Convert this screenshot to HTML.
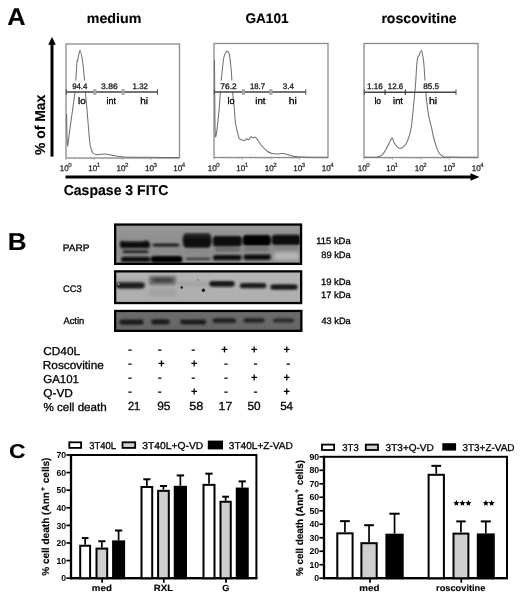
<!DOCTYPE html>
<html><head><meta charset="utf-8"><style>
html,body{margin:0;padding:0;background:#fff;}
body{width:520px;height:600px;overflow:hidden;}
svg{display:block;font-family:"Liberation Sans", sans-serif;will-change:transform;text-rendering:geometricPrecision;}
</style></head><body>
<svg width="520" height="600" viewBox="0 0 520 600" font-family='"Liberation Sans", sans-serif'>
<text transform="translate(7.37,24.60) scale(1.0446,1)" font-size="24.29" font-weight="bold" fill="#000" stroke="#000" stroke-width="0.15">A</text>
<text transform="translate(86.77,22.80) scale(1.0320,1)" font-size="13.80" font-weight="bold" fill="#000" stroke="#000" stroke-width="0.15">medium</text>
<text transform="translate(245.46,23.00) scale(0.9864,1)" font-size="13.80" font-weight="bold" fill="#000" stroke="#000" stroke-width="0.15">GA101</text>
<text transform="translate(381.38,22.80) scale(1.0224,1)" font-size="13.80" font-weight="bold" fill="#000" stroke="#000" stroke-width="0.15">roscovitine</text>
<line x1="52" y1="156.6" x2="52" y2="43" stroke="#000" stroke-width="3"/>
<polygon points="52,37 48.2,44.8 55.8,44.8" fill="#000"/>
<text transform="translate(44.70,155.05) rotate(-90) scale(0.9741,1)" font-size="14.30" font-weight="bold" fill="#000" stroke="#000" stroke-width="0.15">% of Max</text>
<line x1="65.5" y1="177" x2="472" y2="177" stroke="#000" stroke-width="3"/>
<polygon points="479.5,177 470.5,173.2 470.5,180.8" fill="#000"/>
<text transform="translate(63.64,194.90) scale(0.9905,1)" font-size="14.20" font-weight="bold" fill="#000" stroke="#000" stroke-width="0.15">Caspase 3 FITC</text>
<rect x="66" y="44" width="113.5" height="114" fill="none" stroke="#8a8a8a" stroke-width="1.3"/>
<path d="M66.60,114.00 C66.67,117.50 66.83,129.67 67.00,135.00 C67.17,140.33 67.27,145.83 67.60,146.00 C67.93,146.17 68.43,140.17 69.00,136.00 C69.57,131.83 70.33,125.83 71.00,121.00 C71.67,116.17 72.32,111.97 73.00,107.00 C73.68,102.03 74.63,95.63 75.10,91.20 C75.57,86.77 75.48,85.27 75.80,80.40 C76.12,75.53 76.70,65.27 77.00,62.00 C77.30,58.73 77.08,62.70 77.60,60.80 C78.12,58.90 79.23,50.23 80.10,50.60 C80.97,50.97 82.07,58.03 82.80,63.00 C83.53,67.97 84.08,75.70 84.50,80.40 C84.92,85.10 84.88,86.27 85.30,91.20 C85.72,96.13 86.47,103.87 87.00,110.00 C87.53,116.13 88.00,122.33 88.50,128.00 C89.00,133.67 89.50,140.33 90.00,144.00 C90.50,147.67 91.00,148.50 91.50,150.00 C92.00,151.50 92.25,152.23 93.00,153.00 C93.75,153.77 94.92,154.37 96.00,154.60 C97.08,154.83 97.88,154.48 99.50,154.40 C101.12,154.32 103.67,153.96 105.75,154.10 C107.83,154.24 109.92,154.89 112.00,155.25 C114.08,155.61 116.42,155.96 118.25,156.25 C120.08,156.54 119.38,156.84 123.00,157.00 C126.62,157.16 133.83,157.13 140.00,157.20 C146.17,157.27 153.50,157.35 160.00,157.40 C166.50,157.45 175.83,157.48 179.00,157.50" fill="none" stroke="#707070" stroke-width="1.05" stroke-linejoin="round"/>
<line x1="66.00" y1="158" x2="66.00" y2="160.2" stroke="#999" stroke-width="0.7"/>
<line x1="74.54" y1="158" x2="74.54" y2="159.2" stroke="#999" stroke-width="0.7"/>
<line x1="79.54" y1="158" x2="79.54" y2="159.2" stroke="#999" stroke-width="0.7"/>
<line x1="83.08" y1="158" x2="83.08" y2="159.2" stroke="#999" stroke-width="0.7"/>
<line x1="85.83" y1="158" x2="85.83" y2="159.2" stroke="#999" stroke-width="0.7"/>
<line x1="88.08" y1="158" x2="88.08" y2="159.2" stroke="#999" stroke-width="0.7"/>
<line x1="89.98" y1="158" x2="89.98" y2="159.2" stroke="#999" stroke-width="0.7"/>
<line x1="91.63" y1="158" x2="91.63" y2="159.2" stroke="#999" stroke-width="0.7"/>
<line x1="93.08" y1="158" x2="93.08" y2="159.2" stroke="#999" stroke-width="0.7"/>
<line x1="94.38" y1="158" x2="94.38" y2="160.2" stroke="#999" stroke-width="0.7"/>
<line x1="102.92" y1="158" x2="102.92" y2="159.2" stroke="#999" stroke-width="0.7"/>
<line x1="107.91" y1="158" x2="107.91" y2="159.2" stroke="#999" stroke-width="0.7"/>
<line x1="111.46" y1="158" x2="111.46" y2="159.2" stroke="#999" stroke-width="0.7"/>
<line x1="114.21" y1="158" x2="114.21" y2="159.2" stroke="#999" stroke-width="0.7"/>
<line x1="116.46" y1="158" x2="116.46" y2="159.2" stroke="#999" stroke-width="0.7"/>
<line x1="118.35" y1="158" x2="118.35" y2="159.2" stroke="#999" stroke-width="0.7"/>
<line x1="120.00" y1="158" x2="120.00" y2="159.2" stroke="#999" stroke-width="0.7"/>
<line x1="121.45" y1="158" x2="121.45" y2="159.2" stroke="#999" stroke-width="0.7"/>
<line x1="122.75" y1="158" x2="122.75" y2="160.2" stroke="#999" stroke-width="0.7"/>
<line x1="131.29" y1="158" x2="131.29" y2="159.2" stroke="#999" stroke-width="0.7"/>
<line x1="136.29" y1="158" x2="136.29" y2="159.2" stroke="#999" stroke-width="0.7"/>
<line x1="139.83" y1="158" x2="139.83" y2="159.2" stroke="#999" stroke-width="0.7"/>
<line x1="142.58" y1="158" x2="142.58" y2="159.2" stroke="#999" stroke-width="0.7"/>
<line x1="144.83" y1="158" x2="144.83" y2="159.2" stroke="#999" stroke-width="0.7"/>
<line x1="146.73" y1="158" x2="146.73" y2="159.2" stroke="#999" stroke-width="0.7"/>
<line x1="148.38" y1="158" x2="148.38" y2="159.2" stroke="#999" stroke-width="0.7"/>
<line x1="149.83" y1="158" x2="149.83" y2="159.2" stroke="#999" stroke-width="0.7"/>
<line x1="151.12" y1="158" x2="151.12" y2="160.2" stroke="#999" stroke-width="0.7"/>
<line x1="159.67" y1="158" x2="159.67" y2="159.2" stroke="#999" stroke-width="0.7"/>
<line x1="164.66" y1="158" x2="164.66" y2="159.2" stroke="#999" stroke-width="0.7"/>
<line x1="168.21" y1="158" x2="168.21" y2="159.2" stroke="#999" stroke-width="0.7"/>
<line x1="170.96" y1="158" x2="170.96" y2="159.2" stroke="#999" stroke-width="0.7"/>
<line x1="173.21" y1="158" x2="173.21" y2="159.2" stroke="#999" stroke-width="0.7"/>
<line x1="175.10" y1="158" x2="175.10" y2="159.2" stroke="#999" stroke-width="0.7"/>
<line x1="176.75" y1="158" x2="176.75" y2="159.2" stroke="#999" stroke-width="0.7"/>
<line x1="178.20" y1="158" x2="178.20" y2="159.2" stroke="#999" stroke-width="0.7"/>
<text x="59.80" y="171.2" font-size="8.1" fill="#222" stroke="#222" stroke-width="0.25">10</text>
<text x="68.30" y="166.6" font-size="6.1" fill="#222" stroke="#222" stroke-width="0.2">0</text>
<text x="88.17" y="171.2" font-size="8.1" fill="#222" stroke="#222" stroke-width="0.25">10</text>
<text x="96.67" y="166.6" font-size="6.1" fill="#222" stroke="#222" stroke-width="0.2">1</text>
<text x="116.55" y="171.2" font-size="8.1" fill="#222" stroke="#222" stroke-width="0.25">10</text>
<text x="125.05" y="166.6" font-size="6.1" fill="#222" stroke="#222" stroke-width="0.2">2</text>
<text x="144.93" y="171.2" font-size="8.1" fill="#222" stroke="#222" stroke-width="0.25">10</text>
<text x="153.43" y="166.6" font-size="6.1" fill="#222" stroke="#222" stroke-width="0.2">3</text>
<text x="173.30" y="171.2" font-size="8.1" fill="#222" stroke="#222" stroke-width="0.25">10</text>
<text x="181.80" y="166.6" font-size="6.1" fill="#222" stroke="#222" stroke-width="0.2">4</text>
<rect x="71.00" y="80.6" width="17.60" height="10.80" fill="#fff"/>
<rect x="99.90" y="80.6" width="18.90" height="10.80" fill="#fff"/>
<rect x="131.70" y="80.6" width="17.40" height="10.80" fill="#fff"/>
<line x1="66" y1="92" x2="157.5" y2="92" stroke="#444" stroke-width="1.4"/>
<rect x="93.5" y="89.5" width="2.6" height="5" fill="#a8a8a8" stroke="#999" stroke-width="0.5"/>
<rect x="121.9" y="89.5" width="2.6" height="5" fill="#a8a8a8" stroke="#999" stroke-width="0.5"/>
<line x1="157.5" y1="89.2" x2="157.5" y2="94.8" stroke="#555" stroke-width="1"/>
<line x1="66.3" y1="89.2" x2="66.3" y2="94.8" stroke="#555" stroke-width="1"/>
<text transform="translate(72.13,88.60) scale(0.9759,1)" font-size="8.00" fill="#1a1a1a" stroke="#1a1a1a" stroke-width="0.3">94.4</text>
<text transform="translate(101.08,88.60) scale(1.0657,1)" font-size="8.00" fill="#1a1a1a" stroke="#1a1a1a" stroke-width="0.3">3.86</text>
<text transform="translate(132.61,88.60) scale(0.9890,1)" font-size="8.00" fill="#1a1a1a" stroke="#1a1a1a" stroke-width="0.3">1.32</text>
<text transform="translate(77.94,103.60) scale(1.0592,1)" font-size="9.30" fill="#000" stroke="#000" stroke-width="0.3">lo</text>
<text transform="translate(106.60,103.60) scale(0.9546,1)" font-size="9.30" fill="#000" stroke="#000" stroke-width="0.3">int</text>
<text transform="translate(140.20,103.60) scale(1.0753,1)" font-size="9.30" fill="#000" stroke="#000" stroke-width="0.3">hi</text>
<rect x="214" y="43.5" width="114" height="114.0" fill="none" stroke="#8a8a8a" stroke-width="1.3"/>
<path d="M214.50,60.00 C214.55,66.67 214.63,87.21 214.80,100.00 C214.97,112.79 214.84,134.58 215.50,136.75 C216.16,138.92 217.79,122.38 218.75,113.00 C219.71,103.62 220.42,89.67 221.25,80.50 C222.08,71.33 222.92,62.75 223.75,58.00 C224.58,53.25 225.68,53.10 226.25,52.00 C226.82,50.90 226.70,51.10 227.20,51.40 C227.70,51.70 228.57,50.62 229.25,53.80 C229.93,56.98 230.71,64.38 231.25,70.50 C231.79,76.62 231.96,83.83 232.50,90.50 C233.04,97.17 234.07,105.58 234.50,110.50 C234.93,115.42 234.77,117.05 235.10,120.00 C235.43,122.95 235.85,125.23 236.50,128.20 C237.15,131.17 238.35,135.97 239.00,137.80 C239.65,139.63 239.53,138.72 240.40,139.20 C241.27,139.68 243.17,140.77 244.20,140.70 C245.23,140.62 245.87,138.92 246.60,138.75 C247.33,138.58 247.87,140.02 248.60,139.70 C249.33,139.38 250.28,137.12 251.00,136.80 C251.72,136.48 252.18,137.72 252.90,137.80 C253.62,137.88 254.42,136.82 255.30,137.30 C256.18,137.78 257.17,139.33 258.20,140.70 C259.23,142.07 259.98,143.74 261.50,145.50 C263.02,147.26 265.53,149.90 267.30,151.25 C269.07,152.60 270.40,153.14 272.10,153.60 C273.80,154.06 275.77,154.02 277.50,154.00 C279.23,153.98 280.83,153.42 282.50,153.50 C284.17,153.58 285.83,154.08 287.50,154.50 C289.17,154.92 290.83,155.62 292.50,156.00 C294.17,156.38 294.58,156.55 297.50,156.75 C300.42,156.95 304.92,157.11 310.00,157.20 C315.08,157.29 325.00,157.28 328.00,157.30" fill="none" stroke="#707070" stroke-width="1.05" stroke-linejoin="round"/>
<line x1="214.00" y1="157.5" x2="214.00" y2="159.7" stroke="#999" stroke-width="0.7"/>
<line x1="222.58" y1="157.5" x2="222.58" y2="158.7" stroke="#999" stroke-width="0.7"/>
<line x1="227.60" y1="157.5" x2="227.60" y2="158.7" stroke="#999" stroke-width="0.7"/>
<line x1="231.16" y1="157.5" x2="231.16" y2="158.7" stroke="#999" stroke-width="0.7"/>
<line x1="233.92" y1="157.5" x2="233.92" y2="158.7" stroke="#999" stroke-width="0.7"/>
<line x1="236.18" y1="157.5" x2="236.18" y2="158.7" stroke="#999" stroke-width="0.7"/>
<line x1="238.09" y1="157.5" x2="238.09" y2="158.7" stroke="#999" stroke-width="0.7"/>
<line x1="239.74" y1="157.5" x2="239.74" y2="158.7" stroke="#999" stroke-width="0.7"/>
<line x1="241.20" y1="157.5" x2="241.20" y2="158.7" stroke="#999" stroke-width="0.7"/>
<line x1="242.50" y1="157.5" x2="242.50" y2="159.7" stroke="#999" stroke-width="0.7"/>
<line x1="251.08" y1="157.5" x2="251.08" y2="158.7" stroke="#999" stroke-width="0.7"/>
<line x1="256.10" y1="157.5" x2="256.10" y2="158.7" stroke="#999" stroke-width="0.7"/>
<line x1="259.66" y1="157.5" x2="259.66" y2="158.7" stroke="#999" stroke-width="0.7"/>
<line x1="262.42" y1="157.5" x2="262.42" y2="158.7" stroke="#999" stroke-width="0.7"/>
<line x1="264.68" y1="157.5" x2="264.68" y2="158.7" stroke="#999" stroke-width="0.7"/>
<line x1="266.59" y1="157.5" x2="266.59" y2="158.7" stroke="#999" stroke-width="0.7"/>
<line x1="268.24" y1="157.5" x2="268.24" y2="158.7" stroke="#999" stroke-width="0.7"/>
<line x1="269.70" y1="157.5" x2="269.70" y2="158.7" stroke="#999" stroke-width="0.7"/>
<line x1="271.00" y1="157.5" x2="271.00" y2="159.7" stroke="#999" stroke-width="0.7"/>
<line x1="279.58" y1="157.5" x2="279.58" y2="158.7" stroke="#999" stroke-width="0.7"/>
<line x1="284.60" y1="157.5" x2="284.60" y2="158.7" stroke="#999" stroke-width="0.7"/>
<line x1="288.16" y1="157.5" x2="288.16" y2="158.7" stroke="#999" stroke-width="0.7"/>
<line x1="290.92" y1="157.5" x2="290.92" y2="158.7" stroke="#999" stroke-width="0.7"/>
<line x1="293.18" y1="157.5" x2="293.18" y2="158.7" stroke="#999" stroke-width="0.7"/>
<line x1="295.09" y1="157.5" x2="295.09" y2="158.7" stroke="#999" stroke-width="0.7"/>
<line x1="296.74" y1="157.5" x2="296.74" y2="158.7" stroke="#999" stroke-width="0.7"/>
<line x1="298.20" y1="157.5" x2="298.20" y2="158.7" stroke="#999" stroke-width="0.7"/>
<line x1="299.50" y1="157.5" x2="299.50" y2="159.7" stroke="#999" stroke-width="0.7"/>
<line x1="308.08" y1="157.5" x2="308.08" y2="158.7" stroke="#999" stroke-width="0.7"/>
<line x1="313.10" y1="157.5" x2="313.10" y2="158.7" stroke="#999" stroke-width="0.7"/>
<line x1="316.66" y1="157.5" x2="316.66" y2="158.7" stroke="#999" stroke-width="0.7"/>
<line x1="319.42" y1="157.5" x2="319.42" y2="158.7" stroke="#999" stroke-width="0.7"/>
<line x1="321.68" y1="157.5" x2="321.68" y2="158.7" stroke="#999" stroke-width="0.7"/>
<line x1="323.59" y1="157.5" x2="323.59" y2="158.7" stroke="#999" stroke-width="0.7"/>
<line x1="325.24" y1="157.5" x2="325.24" y2="158.7" stroke="#999" stroke-width="0.7"/>
<line x1="326.70" y1="157.5" x2="326.70" y2="158.7" stroke="#999" stroke-width="0.7"/>
<text x="207.80" y="171.2" font-size="8.1" fill="#222" stroke="#222" stroke-width="0.25">10</text>
<text x="216.30" y="166.6" font-size="6.1" fill="#222" stroke="#222" stroke-width="0.2">0</text>
<text x="236.30" y="171.2" font-size="8.1" fill="#222" stroke="#222" stroke-width="0.25">10</text>
<text x="244.80" y="166.6" font-size="6.1" fill="#222" stroke="#222" stroke-width="0.2">1</text>
<text x="264.80" y="171.2" font-size="8.1" fill="#222" stroke="#222" stroke-width="0.25">10</text>
<text x="273.30" y="166.6" font-size="6.1" fill="#222" stroke="#222" stroke-width="0.2">2</text>
<text x="293.30" y="171.2" font-size="8.1" fill="#222" stroke="#222" stroke-width="0.25">10</text>
<text x="301.80" y="166.6" font-size="6.1" fill="#222" stroke="#222" stroke-width="0.2">3</text>
<text x="321.80" y="171.2" font-size="8.1" fill="#222" stroke="#222" stroke-width="0.25">10</text>
<text x="330.30" y="166.6" font-size="6.1" fill="#222" stroke="#222" stroke-width="0.2">4</text>
<rect x="219.30" y="80.6" width="18.40" height="10.80" fill="#fff"/>
<rect x="249.10" y="80.6" width="17.00" height="10.80" fill="#fff"/>
<rect x="281.50" y="80.6" width="13.70" height="10.80" fill="#fff"/>
<line x1="214" y1="92" x2="305.75" y2="92" stroke="#444" stroke-width="1.4"/>
<rect x="242.1" y="89.5" width="2.6" height="5" fill="#a8a8a8" stroke="#999" stroke-width="0.5"/>
<rect x="269.5" y="89.5" width="2.6" height="5" fill="#a8a8a8" stroke="#999" stroke-width="0.5"/>
<line x1="305.75" y1="89.2" x2="305.75" y2="94.8" stroke="#555" stroke-width="1"/>
<line x1="214.3" y1="89.2" x2="214.3" y2="94.8" stroke="#555" stroke-width="1"/>
<text transform="translate(220.36,88.60) scale(1.0448,1)" font-size="8.00" fill="#1a1a1a" stroke="#1a1a1a" stroke-width="0.3">76.2</text>
<text transform="translate(250.02,88.60) scale(0.9615,1)" font-size="8.00" fill="#1a1a1a" stroke="#1a1a1a" stroke-width="0.3">18.7</text>
<text transform="translate(282.70,88.60) scale(1.0094,1)" font-size="8.00" fill="#1a1a1a" stroke="#1a1a1a" stroke-width="0.3">3.4</text>
<text transform="translate(227.39,103.60) scale(0.9790,1)" font-size="9.30" fill="#000" stroke="#000" stroke-width="0.3">lo</text>
<text transform="translate(255.25,103.60) scale(1.0424,1)" font-size="9.30" fill="#000" stroke="#000" stroke-width="0.3">int</text>
<text transform="translate(288.67,103.60) scale(1.1257,1)" font-size="9.30" fill="#000" stroke="#000" stroke-width="0.3">hi</text>
<rect x="364" y="43.5" width="114" height="114.0" fill="none" stroke="#8a8a8a" stroke-width="1.3"/>
<path d="M364.50,157.20 C366.57,157.18 373.87,157.58 376.90,157.10 C379.93,156.62 380.93,156.05 382.70,154.30 C384.47,152.55 386.23,148.85 387.50,146.60 C388.77,144.35 389.50,142.23 390.30,140.80 C391.10,139.37 391.65,137.67 392.30,138.00 C392.95,138.33 393.42,141.37 394.20,142.80 C394.98,144.23 396.05,145.65 397.00,146.60 C397.95,147.55 398.77,148.50 399.90,148.50 C401.03,148.50 402.68,147.55 403.80,146.60 C404.92,145.65 405.65,144.72 406.60,142.80 C407.55,140.88 408.70,137.82 409.50,135.10 C410.30,132.38 410.77,130.97 411.40,126.50 C412.03,122.03 412.65,114.85 413.30,108.30 C413.95,101.75 414.65,95.20 415.30,87.20 C415.95,79.20 416.57,65.58 417.20,60.30 C417.83,55.02 418.40,57.15 419.10,55.50 C419.80,53.85 420.77,50.23 421.40,50.40 C422.03,50.57 422.48,54.20 422.90,56.50 C423.32,58.80 423.52,59.73 423.90,64.20 C424.28,68.67 424.72,76.92 425.20,83.30 C425.68,89.68 426.15,96.75 426.80,102.50 C427.45,108.25 428.32,113.65 429.10,117.80 C429.88,121.95 430.77,124.20 431.50,127.40 C432.23,130.60 432.70,133.80 433.50,137.00 C434.30,140.20 435.35,143.88 436.30,146.60 C437.25,149.32 438.08,151.70 439.20,153.30 C440.32,154.90 441.57,155.57 443.00,156.20 C444.43,156.83 441.97,156.92 447.80,157.10 C453.63,157.28 472.97,157.27 478.00,157.30" fill="none" stroke="#707070" stroke-width="1.05" stroke-linejoin="round"/>
<line x1="364.00" y1="157.5" x2="364.00" y2="159.7" stroke="#999" stroke-width="0.7"/>
<line x1="372.58" y1="157.5" x2="372.58" y2="158.7" stroke="#999" stroke-width="0.7"/>
<line x1="377.60" y1="157.5" x2="377.60" y2="158.7" stroke="#999" stroke-width="0.7"/>
<line x1="381.16" y1="157.5" x2="381.16" y2="158.7" stroke="#999" stroke-width="0.7"/>
<line x1="383.92" y1="157.5" x2="383.92" y2="158.7" stroke="#999" stroke-width="0.7"/>
<line x1="386.18" y1="157.5" x2="386.18" y2="158.7" stroke="#999" stroke-width="0.7"/>
<line x1="388.09" y1="157.5" x2="388.09" y2="158.7" stroke="#999" stroke-width="0.7"/>
<line x1="389.74" y1="157.5" x2="389.74" y2="158.7" stroke="#999" stroke-width="0.7"/>
<line x1="391.20" y1="157.5" x2="391.20" y2="158.7" stroke="#999" stroke-width="0.7"/>
<line x1="392.50" y1="157.5" x2="392.50" y2="159.7" stroke="#999" stroke-width="0.7"/>
<line x1="401.08" y1="157.5" x2="401.08" y2="158.7" stroke="#999" stroke-width="0.7"/>
<line x1="406.10" y1="157.5" x2="406.10" y2="158.7" stroke="#999" stroke-width="0.7"/>
<line x1="409.66" y1="157.5" x2="409.66" y2="158.7" stroke="#999" stroke-width="0.7"/>
<line x1="412.42" y1="157.5" x2="412.42" y2="158.7" stroke="#999" stroke-width="0.7"/>
<line x1="414.68" y1="157.5" x2="414.68" y2="158.7" stroke="#999" stroke-width="0.7"/>
<line x1="416.59" y1="157.5" x2="416.59" y2="158.7" stroke="#999" stroke-width="0.7"/>
<line x1="418.24" y1="157.5" x2="418.24" y2="158.7" stroke="#999" stroke-width="0.7"/>
<line x1="419.70" y1="157.5" x2="419.70" y2="158.7" stroke="#999" stroke-width="0.7"/>
<line x1="421.00" y1="157.5" x2="421.00" y2="159.7" stroke="#999" stroke-width="0.7"/>
<line x1="429.58" y1="157.5" x2="429.58" y2="158.7" stroke="#999" stroke-width="0.7"/>
<line x1="434.60" y1="157.5" x2="434.60" y2="158.7" stroke="#999" stroke-width="0.7"/>
<line x1="438.16" y1="157.5" x2="438.16" y2="158.7" stroke="#999" stroke-width="0.7"/>
<line x1="440.92" y1="157.5" x2="440.92" y2="158.7" stroke="#999" stroke-width="0.7"/>
<line x1="443.18" y1="157.5" x2="443.18" y2="158.7" stroke="#999" stroke-width="0.7"/>
<line x1="445.09" y1="157.5" x2="445.09" y2="158.7" stroke="#999" stroke-width="0.7"/>
<line x1="446.74" y1="157.5" x2="446.74" y2="158.7" stroke="#999" stroke-width="0.7"/>
<line x1="448.20" y1="157.5" x2="448.20" y2="158.7" stroke="#999" stroke-width="0.7"/>
<line x1="449.50" y1="157.5" x2="449.50" y2="159.7" stroke="#999" stroke-width="0.7"/>
<line x1="458.08" y1="157.5" x2="458.08" y2="158.7" stroke="#999" stroke-width="0.7"/>
<line x1="463.10" y1="157.5" x2="463.10" y2="158.7" stroke="#999" stroke-width="0.7"/>
<line x1="466.66" y1="157.5" x2="466.66" y2="158.7" stroke="#999" stroke-width="0.7"/>
<line x1="469.42" y1="157.5" x2="469.42" y2="158.7" stroke="#999" stroke-width="0.7"/>
<line x1="471.68" y1="157.5" x2="471.68" y2="158.7" stroke="#999" stroke-width="0.7"/>
<line x1="473.59" y1="157.5" x2="473.59" y2="158.7" stroke="#999" stroke-width="0.7"/>
<line x1="475.24" y1="157.5" x2="475.24" y2="158.7" stroke="#999" stroke-width="0.7"/>
<line x1="476.70" y1="157.5" x2="476.70" y2="158.7" stroke="#999" stroke-width="0.7"/>
<text x="357.80" y="171.2" font-size="8.1" fill="#222" stroke="#222" stroke-width="0.25">10</text>
<text x="366.30" y="166.6" font-size="6.1" fill="#222" stroke="#222" stroke-width="0.2">0</text>
<text x="386.30" y="171.2" font-size="8.1" fill="#222" stroke="#222" stroke-width="0.25">10</text>
<text x="394.80" y="166.6" font-size="6.1" fill="#222" stroke="#222" stroke-width="0.2">1</text>
<text x="414.80" y="171.2" font-size="8.1" fill="#222" stroke="#222" stroke-width="0.25">10</text>
<text x="423.30" y="166.6" font-size="6.1" fill="#222" stroke="#222" stroke-width="0.2">2</text>
<text x="443.30" y="171.2" font-size="8.1" fill="#222" stroke="#222" stroke-width="0.25">10</text>
<text x="451.80" y="166.6" font-size="6.1" fill="#222" stroke="#222" stroke-width="0.2">3</text>
<text x="471.80" y="171.2" font-size="8.1" fill="#222" stroke="#222" stroke-width="0.25">10</text>
<text x="480.30" y="166.6" font-size="6.1" fill="#222" stroke="#222" stroke-width="0.2">4</text>
<rect x="366.10" y="80.6" width="17.80" height="11.00" fill="#fff"/>
<rect x="386.90" y="80.6" width="17.50" height="11.00" fill="#fff"/>
<rect x="422.00" y="80.6" width="18.30" height="11.00" fill="#fff"/>
<line x1="364" y1="92.2" x2="456" y2="92.2" stroke="#444" stroke-width="1.4"/>
<line x1="385.1" y1="89.4" x2="385.1" y2="95.0" stroke="#333" stroke-width="1.1"/>
<line x1="405.3" y1="89.4" x2="405.3" y2="95.0" stroke="#333" stroke-width="1.1"/>
<line x1="456" y1="89.4" x2="456" y2="95.0" stroke="#555" stroke-width="1"/>
<line x1="364.3" y1="89.4" x2="364.3" y2="95.0" stroke="#555" stroke-width="1"/>
<text transform="translate(366.99,88.60) scale(1.0123,1)" font-size="8.00" fill="#1a1a1a" stroke="#1a1a1a" stroke-width="0.3">1.16</text>
<text transform="translate(387.80,88.60) scale(0.9918,1)" font-size="8.00" fill="#1a1a1a" stroke="#1a1a1a" stroke-width="0.3">12.6</text>
<text transform="translate(423.15,88.60) scale(1.0268,1)" font-size="8.00" fill="#1a1a1a" stroke="#1a1a1a" stroke-width="0.3">85.5</text>
<text transform="translate(374.42,103.60) scale(0.9228,1)" font-size="9.30" fill="#000" stroke="#000" stroke-width="0.3">lo</text>
<text transform="translate(393.07,103.60) scale(1.0094,1)" font-size="9.30" fill="#000" stroke="#000" stroke-width="0.3">int</text>
<text transform="translate(428.97,103.60) scale(1.1257,1)" font-size="9.30" fill="#000" stroke="#000" stroke-width="0.3">hi</text>
<text transform="translate(7.74,249.90) scale(1.0667,1)" font-size="24.44" font-weight="bold" fill="#000" stroke="#000" stroke-width="0.15">B</text>
<text transform="translate(62.67,251.40) scale(1.0631,1)" font-size="9.50" fill="#000" stroke="#000" stroke-width="0.3">PARP</text>
<text transform="translate(63.03,291.60) scale(0.9878,1)" font-size="9.50" fill="#000" stroke="#000" stroke-width="0.3">CC3</text>
<text transform="translate(63.48,324.40) scale(0.9818,1)" font-size="9.50" fill="#000" stroke="#000" stroke-width="0.3">Actin</text>
<text transform="translate(316.19,244.30) scale(1.0088,1)" font-size="9.40" fill="#000" stroke="#000" stroke-width="0.3">115 kDa</text>
<text transform="translate(321.20,257.50) scale(0.9940,1)" font-size="9.40" fill="#000" stroke="#000" stroke-width="0.3">89 kDa</text>
<text transform="translate(320.89,284.60) scale(1.0045,1)" font-size="9.40" fill="#000" stroke="#000" stroke-width="0.3">19 kDa</text>
<text transform="translate(320.89,297.80) scale(1.0045,1)" font-size="9.40" fill="#000" stroke="#000" stroke-width="0.3">17 kDa</text>
<text transform="translate(321.39,324.10) scale(0.9877,1)" font-size="9.40" fill="#000" stroke="#000" stroke-width="0.3">43 kDa</text>
<defs><filter id="bl1" x="-20%" y="-100%" width="140%" height="300%"><feGaussianBlur stdDeviation="0.85"/></filter><filter id="bl2" x="-20%" y="-100%" width="140%" height="300%"><feGaussianBlur stdDeviation="1.5"/></filter><filter id="bl3" x="-20%" y="-100%" width="140%" height="300%"><feGaussianBlur stdDeviation="1.0"/></filter><filter id="bl4" x="-20%" y="-100%" width="140%" height="300%"><feGaussianBlur stdDeviation="1.2"/></filter><linearGradient id="gP" x1="0" y1="0" x2="0" y2="1"><stop offset="0" stop-color="#989898"/><stop offset="0.35" stop-color="#909090"/><stop offset="0.7" stop-color="#8c8c8c"/><stop offset="1" stop-color="#929292"/></linearGradient><linearGradient id="gC" x1="0" y1="0" x2="0" y2="1"><stop offset="0" stop-color="#b4b4b4"/><stop offset="1" stop-color="#aeaeae"/></linearGradient><linearGradient id="gA" x1="0" y1="0" x2="0" y2="1"><stop offset="0" stop-color="#6c6c6c"/><stop offset="1" stop-color="#656565"/></linearGradient><linearGradient id="gL3" x1="0" y1="0" x2="0" y2="1"><stop offset="0" stop-color="#3a3a3a"/><stop offset="0.3" stop-color="#151515"/><stop offset="1" stop-color="#050505"/></linearGradient></defs>
<rect x="115.15" y="224.55" width="185.9" height="39.30000000000001" fill="url(#gP)"/>
<g filter="url(#bl2)">
<rect x="152" y="249.0" width="29" height="6" rx="2" fill="#888" opacity="0.45"/>
<rect x="185" y="247.5" width="25" height="7" rx="2" fill="#888" opacity="0.5"/>
<rect x="274" y="252.0" width="25" height="8" rx="2" fill="#d4d4d4" opacity="0.55"/>
</g>
<g filter="url(#bl1)">
<rect x="120.0" y="241.6" width="30.0" height="6.6" rx="3" ry="2.80" fill="#0a0a0a"/>
<rect x="120.0" y="241.1" width="4.5" height="3" rx="3" ry="1.27" fill="#111"/>
<rect x="143.5" y="240.5" width="5.0" height="2.6" rx="3" ry="1.10" fill="#111"/>
<rect x="122.5" y="250.2" width="26.099999999999994" height="3.0" rx="3" ry="1.27" fill="#222"/>
<rect x="121.0" y="256.7" width="29.19999999999999" height="5.4" rx="3" ry="2.29" fill="#080808"/>
<rect x="152.2" y="243.79999999999998" width="27.400000000000006" height="2.6" rx="3" ry="1.10" fill="#111"/>
<rect x="150.8" y="255.9" width="31.599999999999994" height="6.8" rx="3" ry="2.89" fill="#020202"/>
<rect x="182.8" y="232.89999999999998" width="28.599999999999994" height="14.6" rx="3" ry="6.21" fill="url(#gL3)"/>
<rect x="185.5" y="257.79999999999995" width="25.099999999999994" height="2.2" rx="3" ry="0.94" fill="#333"/>
<rect x="212.8" y="236.0" width="29.0" height="10.6" rx="3" ry="4.50" fill="#070707"/>
<rect x="214.5" y="247.4" width="26.0" height="4.0" rx="3" ry="1.70" fill="#6a6a6a"/>
<rect x="213.0" y="254.90000000000003" width="28.5" height="5.4" rx="3" ry="2.29" fill="#0a0a0a"/>
<rect x="242.8" y="235.1" width="28.0" height="10.6" rx="3" ry="4.50" fill="#050505"/>
<rect x="243.5" y="247.0" width="26.0" height="4.0" rx="3" ry="1.70" fill="#747474"/>
<rect x="243.5" y="254.5" width="27.30000000000001" height="5.4" rx="3" ry="2.29" fill="#0a0a0a"/>
<rect x="271.9" y="234.8" width="28.30000000000001" height="10.4" rx="3" ry="4.42" fill="#070707"/>
<rect x="273.5" y="246.5" width="25.0" height="2.6" rx="3" ry="1.10" fill="#808080"/>
</g>
<rect x="115.15" y="224.55" width="185.9" height="39.30000000000001" fill="none" stroke="#000" stroke-width="2.3"/>
<rect x="115.15" y="271.35" width="185.99999999999997" height="31.69999999999999" fill="url(#gC)"/>
<g filter="url(#bl2)">
<rect x="149" y="276.1" width="27" height="9" rx="2" fill="#4a4a4a" opacity="0.7"/>
<rect x="149" y="288.5" width="27" height="8" rx="2" fill="#8c8c8c" opacity="0.4"/>
<rect x="116" y="279.5" width="30" height="9" rx="2" fill="#777" opacity="0.3"/>
<rect x="178" y="281.0" width="30" height="6" rx="2" fill="#888" opacity="0.3"/>
</g>
<g filter="url(#bl3)">
<rect x="116.2" y="282.4" width="28.39999999999999" height="6.0" rx="3.5" ry="2.55" fill="#1c1c1c"/>
<rect x="153" y="278.59999999999997" width="19" height="3.2" rx="3.5" ry="1.36" fill="#3c3c3c"/>
<rect x="209.2" y="281.0" width="25.5" height="5.8" rx="3.5" ry="2.46" fill="#151515"/>
<rect x="239.8" y="282.90000000000003" width="26.5" height="5.4" rx="3.5" ry="2.29" fill="#1a1a1a"/>
<rect x="270.4" y="284.2" width="27.200000000000045" height="5.6" rx="3.5" ry="2.38" fill="#1e1e1e"/>
</g>
<circle cx="118.7" cy="284.3" r="0.9" fill="#ccc" opacity="0.85"/>
<circle cx="181.7" cy="287.5" r="1.2" fill="#000" opacity="0.85"/>
<circle cx="203.4" cy="290.2" r="1.7" fill="#000" opacity="0.85"/>
<circle cx="198.2" cy="279.8" r="0.9" fill="#666" opacity="0.85"/>
<rect x="115.15" y="271.35" width="185.99999999999997" height="31.69999999999999" fill="none" stroke="#000" stroke-width="2.3"/>
<rect x="115.15" y="310.95" width="186.20000000000002" height="19.900000000000034" fill="url(#gA)"/>
<g filter="url(#bl4)">
<rect x="119.6" y="319.59999999999997" width="24.0" height="5.2" rx="3.5" ry="2.21" fill="#1e1e1e"/>
<rect x="151.3" y="319.29999999999995" width="18.299999999999983" height="5.2" rx="3.5" ry="2.21" fill="#1e1e1e"/>
<rect x="180.2" y="319.4" width="26.0" height="5.0" rx="3.5" ry="2.12" fill="#1e1e1e"/>
<rect x="212.7" y="318.20000000000005" width="23.30000000000001" height="4.8" rx="3.5" ry="2.04" fill="#232323"/>
<rect x="243.4" y="318.0" width="21.099999999999994" height="4.8" rx="3.5" ry="2.04" fill="#262626"/>
<rect x="273" y="318.2" width="21" height="4.4" rx="3.5" ry="1.87" fill="#2e2e2e"/>
</g>
<rect x="115.15" y="310.95" width="186.20000000000002" height="19.900000000000034" fill="none" stroke="#000" stroke-width="2.3"/>
<text transform="translate(43.21,354.80) scale(1.0303,1)" font-size="11.50" fill="#000" stroke="#000" stroke-width="0.3">CD40L</text>
<text transform="translate(42.83,368.50) scale(1.0261,1)" font-size="11.50" fill="#000" stroke="#000" stroke-width="0.3">Roscovitine</text>
<text transform="translate(43.23,382.80) scale(0.9979,1)" font-size="11.50" fill="#000" stroke="#000" stroke-width="0.3">GA101</text>
<text transform="translate(43.24,396.60) scale(1.0305,1)" font-size="11.50" fill="#000" stroke="#000" stroke-width="0.3">Q-VD</text>
<text transform="translate(43.39,410.60) scale(1.0114,1)" font-size="11.50" fill="#000" stroke="#000" stroke-width="0.3">% cell death</text>
<text transform="translate(127.99,352.86) scale(1.1000,1)" font-size="11.00" font-weight="bold" fill="#000" stroke="#000" stroke-width="0.15">-</text>
<text transform="translate(157.79,352.86) scale(1.1000,1)" font-size="11.00" font-weight="bold" fill="#000" stroke="#000" stroke-width="0.15">-</text>
<text transform="translate(191.29,352.86) scale(1.1000,1)" font-size="11.00" font-weight="bold" fill="#000" stroke="#000" stroke-width="0.15">-</text>
<text transform="translate(221.28,352.57) scale(1.0000,1)" font-size="11.00" font-weight="bold" fill="#000" stroke="#000" stroke-width="0.15">+</text>
<text transform="translate(251.08,352.57) scale(1.0000,1)" font-size="11.00" font-weight="bold" fill="#000" stroke="#000" stroke-width="0.15">+</text>
<text transform="translate(283.58,352.57) scale(1.0000,1)" font-size="11.00" font-weight="bold" fill="#000" stroke="#000" stroke-width="0.15">+</text>
<text transform="translate(127.99,367.16) scale(1.1000,1)" font-size="11.00" font-weight="bold" fill="#000" stroke="#000" stroke-width="0.15">-</text>
<text transform="translate(158.28,366.97) scale(1.0000,1)" font-size="11.00" font-weight="bold" fill="#000" stroke="#000" stroke-width="0.15">+</text>
<text transform="translate(190.98,366.97) scale(1.0000,1)" font-size="11.00" font-weight="bold" fill="#000" stroke="#000" stroke-width="0.15">+</text>
<text transform="translate(223.89,367.16) scale(1.1000,1)" font-size="11.00" font-weight="bold" fill="#000" stroke="#000" stroke-width="0.15">-</text>
<text transform="translate(253.49,367.16) scale(1.1000,1)" font-size="11.00" font-weight="bold" fill="#000" stroke="#000" stroke-width="0.15">-</text>
<text transform="translate(286.19,367.16) scale(1.1000,1)" font-size="11.00" font-weight="bold" fill="#000" stroke="#000" stroke-width="0.15">-</text>
<text transform="translate(127.99,381.26) scale(1.1000,1)" font-size="11.00" font-weight="bold" fill="#000" stroke="#000" stroke-width="0.15">-</text>
<text transform="translate(157.79,381.26) scale(1.1000,1)" font-size="11.00" font-weight="bold" fill="#000" stroke="#000" stroke-width="0.15">-</text>
<text transform="translate(191.29,381.26) scale(1.1000,1)" font-size="11.00" font-weight="bold" fill="#000" stroke="#000" stroke-width="0.15">-</text>
<text transform="translate(223.89,381.26) scale(1.1000,1)" font-size="11.00" font-weight="bold" fill="#000" stroke="#000" stroke-width="0.15">-</text>
<text transform="translate(251.08,381.07) scale(1.0000,1)" font-size="11.00" font-weight="bold" fill="#000" stroke="#000" stroke-width="0.15">+</text>
<text transform="translate(283.58,381.07) scale(1.0000,1)" font-size="11.00" font-weight="bold" fill="#000" stroke="#000" stroke-width="0.15">+</text>
<text transform="translate(127.99,395.26) scale(1.1000,1)" font-size="11.00" font-weight="bold" fill="#000" stroke="#000" stroke-width="0.15">-</text>
<text transform="translate(157.79,395.26) scale(1.1000,1)" font-size="11.00" font-weight="bold" fill="#000" stroke="#000" stroke-width="0.15">-</text>
<text transform="translate(190.98,395.27) scale(1.0000,1)" font-size="11.00" font-weight="bold" fill="#000" stroke="#000" stroke-width="0.15">+</text>
<text transform="translate(223.89,395.26) scale(1.1000,1)" font-size="11.00" font-weight="bold" fill="#000" stroke="#000" stroke-width="0.15">-</text>
<text transform="translate(253.49,395.26) scale(1.1000,1)" font-size="11.00" font-weight="bold" fill="#000" stroke="#000" stroke-width="0.15">-</text>
<text transform="translate(283.58,395.27) scale(1.0000,1)" font-size="11.00" font-weight="bold" fill="#000" stroke="#000" stroke-width="0.15">+</text>
<text transform="translate(127.95,410.20) scale(0.9374,1)" font-size="11.80" fill="#000" stroke="#000" stroke-width="0.3">21</text>
<text transform="translate(157.13,410.20) scale(1.0194,1)" font-size="11.80" fill="#000" stroke="#000" stroke-width="0.3">95</text>
<text transform="translate(189.19,410.20) scale(1.0722,1)" font-size="11.80" fill="#000" stroke="#000" stroke-width="0.3">58</text>
<text transform="translate(218.58,410.20) scale(1.0410,1)" font-size="11.80" fill="#000" stroke="#000" stroke-width="0.3">17</text>
<text transform="translate(247.53,410.20) scale(1.0014,1)" font-size="11.80" fill="#000" stroke="#000" stroke-width="0.3">50</text>
<text transform="translate(280.14,410.20) scale(0.9836,1)" font-size="11.80" fill="#000" stroke="#000" stroke-width="0.3">54</text>
<text transform="translate(9.08,457.80) scale(1.1409,1)" font-size="20.07" font-weight="bold" fill="#000" stroke="#000" stroke-width="0.15">C</text>
<rect x="71" y="455" width="185.39999999999998" height="123.20000000000005" fill="none" stroke="#000" stroke-width="2"/>
<line x1="71" y1="454" x2="71" y2="579.2" stroke="#000" stroke-width="2.3"/>
<line x1="70" y1="578.2" x2="257.4" y2="578.2" stroke="#000" stroke-width="2.3"/>
<line x1="66.4" y1="578.20" x2="71" y2="578.20" stroke="#000" stroke-width="1.7"/>
<text x="66.2" y="581.30" font-size="8.7" font-weight="bold" text-anchor="end">0</text>
<line x1="66.4" y1="560.60" x2="71" y2="560.60" stroke="#000" stroke-width="1.7"/>
<text x="66.2" y="563.70" font-size="8.7" font-weight="bold" text-anchor="end">10</text>
<line x1="66.4" y1="543.00" x2="71" y2="543.00" stroke="#000" stroke-width="1.7"/>
<text x="66.2" y="546.10" font-size="8.7" font-weight="bold" text-anchor="end">20</text>
<line x1="66.4" y1="525.40" x2="71" y2="525.40" stroke="#000" stroke-width="1.7"/>
<text x="66.2" y="528.50" font-size="8.7" font-weight="bold" text-anchor="end">30</text>
<line x1="66.4" y1="507.80" x2="71" y2="507.80" stroke="#000" stroke-width="1.7"/>
<text x="66.2" y="510.90" font-size="8.7" font-weight="bold" text-anchor="end">40</text>
<line x1="66.4" y1="490.20" x2="71" y2="490.20" stroke="#000" stroke-width="1.7"/>
<text x="66.2" y="493.30" font-size="8.7" font-weight="bold" text-anchor="end">50</text>
<line x1="66.4" y1="472.60" x2="71" y2="472.60" stroke="#000" stroke-width="1.7"/>
<text x="66.2" y="475.70" font-size="8.7" font-weight="bold" text-anchor="end">60</text>
<line x1="66.4" y1="455.00" x2="71" y2="455.00" stroke="#000" stroke-width="1.7"/>
<text x="66.2" y="458.10" font-size="8.7" font-weight="bold" text-anchor="end">70</text>
<line x1="85.15" y1="544.76" x2="85.15" y2="538.072" stroke="#000" stroke-width="1.7"/>
<line x1="81.82" y1="538.07" x2="88.48" y2="538.07" stroke="#000" stroke-width="2"/>
<rect x="80.2" y="545.76" width="9.899999999999991" height="32.440000000000055" fill="#fff" stroke="#000" stroke-width="2"/>
<line x1="101.85" y1="547.576" x2="101.85" y2="541.24" stroke="#000" stroke-width="1.7"/>
<line x1="98.29" y1="541.24" x2="105.41" y2="541.24" stroke="#000" stroke-width="2"/>
<rect x="96.5" y="548.576" width="10.700000000000003" height="29.624000000000024" fill="#cfcfcf" stroke="#000" stroke-width="2"/>
<line x1="118.6" y1="540.36" x2="118.6" y2="530.504" stroke="#000" stroke-width="1.7"/>
<line x1="114.96" y1="530.50" x2="122.24" y2="530.50" stroke="#000" stroke-width="2"/>
<rect x="113.1" y="541.36" width="11.0" height="36.84000000000003" fill="#000" stroke="#000" stroke-width="2"/>
<line x1="146.85" y1="485.976" x2="146.85" y2="479.288" stroke="#000" stroke-width="1.7"/>
<line x1="143.29" y1="479.29" x2="150.41" y2="479.29" stroke="#000" stroke-width="2"/>
<rect x="141.5" y="486.976" width="10.699999999999989" height="91.22400000000005" fill="#fff" stroke="#000" stroke-width="2"/>
<line x1="163.45" y1="489.848" x2="163.45" y2="485.976" stroke="#000" stroke-width="1.7"/>
<line x1="159.89" y1="485.98" x2="167.01" y2="485.98" stroke="#000" stroke-width="2"/>
<rect x="158.1" y="490.848" width="10.700000000000017" height="87.35200000000003" fill="#cfcfcf" stroke="#000" stroke-width="2"/>
<line x1="180.375" y1="485.8" x2="180.375" y2="475.416" stroke="#000" stroke-width="1.7"/>
<line x1="176.66" y1="475.42" x2="184.09" y2="475.42" stroke="#000" stroke-width="2"/>
<rect x="174.75" y="486.8" width="11.25" height="91.40000000000003" fill="#000" stroke="#000" stroke-width="2"/>
<line x1="209.0" y1="483.86400000000003" x2="209.0" y2="473.656" stroke="#000" stroke-width="1.7"/>
<line x1="205.36" y1="473.66" x2="212.64" y2="473.66" stroke="#000" stroke-width="2"/>
<rect x="203.5" y="484.86400000000003" width="11.0" height="93.33600000000001" fill="#fff" stroke="#000" stroke-width="2"/>
<line x1="225.625" y1="500.76" x2="225.625" y2="496.712" stroke="#000" stroke-width="1.7"/>
<line x1="222.19" y1="496.71" x2="229.06" y2="496.71" stroke="#000" stroke-width="2"/>
<rect x="220.5" y="501.76" width="10.25" height="76.44000000000005" fill="#cfcfcf" stroke="#000" stroke-width="2"/>
<line x1="242.25" y1="487.56" x2="242.25" y2="481.4" stroke="#000" stroke-width="1.7"/>
<line x1="238.61" y1="481.40" x2="245.89" y2="481.40" stroke="#000" stroke-width="2"/>
<rect x="236.75" y="488.56" width="11.0" height="89.64000000000004" fill="#000" stroke="#000" stroke-width="2"/>
<line x1="102.1" y1="578.2" x2="102.1" y2="582.8000000000001" stroke="#000" stroke-width="1.7"/>
<text transform="translate(91.87,590.50) scale(1.0794,1)" font-size="9.00" font-weight="bold" fill="#000" stroke="#000" stroke-width="0.15">med</text>
<line x1="163.8" y1="578.2" x2="163.8" y2="582.8000000000001" stroke="#000" stroke-width="1.7"/>
<text transform="translate(153.84,590.50) scale(1.0804,1)" font-size="9.00" font-weight="bold" fill="#000" stroke="#000" stroke-width="0.15">RXL</text>
<line x1="226" y1="578.2" x2="226" y2="582.8000000000001" stroke="#000" stroke-width="1.7"/>
<text transform="translate(222.13,590.50) scale(1.0288,1)" font-size="9.00" font-weight="bold" fill="#000" stroke="#000" stroke-width="0.15">G</text>
<rect x="69.30000000000001" y="442.29999999999995" width="11.799999999999994" height="5.600000000000034" fill="#fff" stroke="#000" stroke-width="1.8"/>
<text transform="translate(89.24,448.50) scale(0.9476,1)" font-size="10.00" fill="#000" stroke="#000" stroke-width="0.3">3T40L</text>
<rect x="122.5" y="442.29999999999995" width="12.7" height="5.600000000000034" fill="#cfcfcf" stroke="#000" stroke-width="1.8"/>
<text transform="translate(142.31,448.50) scale(1.0283,1)" font-size="10.00" fill="#000" stroke="#000" stroke-width="0.3">3T40L+Q-VD</text>
<rect x="208.70000000000002" y="441.5" width="13.399999999999988" height="6.999999999999955" fill="#000" stroke="#000" stroke-width="1.8"/>
<text transform="translate(228.82,448.50) scale(1.0096,1)" font-size="10.00" fill="#000" stroke="#000" stroke-width="0.3">3T40L+Z-VAD</text>
<text transform="translate(48.90,575.85) rotate(-90) scale(0.9962,1)" font-size="10.10" font-weight="bold" fill="#000" stroke="#000" stroke-width="0.15">% cell death (Ann<tspan dx="1.1" dy="-4.4" font-size="6.8">+</tspan><tspan dx="0.9" dy="4.4"> cells)</tspan></text>
<rect x="324" y="456.8" width="183" height="121.40000000000003" fill="none" stroke="#000" stroke-width="2"/>
<line x1="324" y1="455.8" x2="324" y2="579.2" stroke="#000" stroke-width="2.3"/>
<line x1="323" y1="578.2" x2="508" y2="578.2" stroke="#000" stroke-width="2.3"/>
<line x1="319.4" y1="578.20" x2="324" y2="578.20" stroke="#000" stroke-width="1.7"/>
<text x="319.2" y="581.30" font-size="8.7" font-weight="bold" text-anchor="end">0</text>
<line x1="319.4" y1="564.71" x2="324" y2="564.71" stroke="#000" stroke-width="1.7"/>
<text x="319.2" y="567.81" font-size="8.7" font-weight="bold" text-anchor="end">10</text>
<line x1="319.4" y1="551.22" x2="324" y2="551.22" stroke="#000" stroke-width="1.7"/>
<text x="319.2" y="554.32" font-size="8.7" font-weight="bold" text-anchor="end">20</text>
<line x1="319.4" y1="537.73" x2="324" y2="537.73" stroke="#000" stroke-width="1.7"/>
<text x="319.2" y="540.83" font-size="8.7" font-weight="bold" text-anchor="end">30</text>
<line x1="319.4" y1="524.24" x2="324" y2="524.24" stroke="#000" stroke-width="1.7"/>
<text x="319.2" y="527.34" font-size="8.7" font-weight="bold" text-anchor="end">40</text>
<line x1="319.4" y1="510.76" x2="324" y2="510.76" stroke="#000" stroke-width="1.7"/>
<text x="319.2" y="513.86" font-size="8.7" font-weight="bold" text-anchor="end">50</text>
<line x1="319.4" y1="497.27" x2="324" y2="497.27" stroke="#000" stroke-width="1.7"/>
<text x="319.2" y="500.37" font-size="8.7" font-weight="bold" text-anchor="end">60</text>
<line x1="319.4" y1="483.78" x2="324" y2="483.78" stroke="#000" stroke-width="1.7"/>
<text x="319.2" y="486.88" font-size="8.7" font-weight="bold" text-anchor="end">70</text>
<line x1="319.4" y1="470.29" x2="324" y2="470.29" stroke="#000" stroke-width="1.7"/>
<text x="319.2" y="473.39" font-size="8.7" font-weight="bold" text-anchor="end">80</text>
<line x1="319.4" y1="456.80" x2="324" y2="456.80" stroke="#000" stroke-width="1.7"/>
<text x="319.2" y="459.90" font-size="8.7" font-weight="bold" text-anchor="end">90</text>
<line x1="344.95000000000005" y1="532.3377777777778" x2="344.95000000000005" y2="521.142" stroke="#000" stroke-width="1.7"/>
<line x1="340.11" y1="521.14" x2="349.79" y2="521.14" stroke="#000" stroke-width="2"/>
<rect x="337.3" y="533.3377777777778" width="15.300000000000011" height="44.86222222222227" fill="#fff" stroke="#000" stroke-width="2"/>
<line x1="369.04999999999995" y1="542.1846666666667" x2="369.04999999999995" y2="525.1886666666667" stroke="#000" stroke-width="1.7"/>
<line x1="364.21" y1="525.19" x2="373.89" y2="525.19" stroke="#000" stroke-width="2"/>
<rect x="361.4" y="543.1846666666667" width="15.300000000000011" height="35.01533333333339" fill="#cfcfcf" stroke="#000" stroke-width="2"/>
<line x1="394.54999999999995" y1="533.6866666666667" x2="394.54999999999995" y2="513.7231111111112" stroke="#000" stroke-width="1.7"/>
<line x1="389.43" y1="513.72" x2="399.67" y2="513.72" stroke="#000" stroke-width="2"/>
<rect x="386.4" y="534.6866666666667" width="16.30000000000001" height="43.51333333333332" fill="#000" stroke="#000" stroke-width="2"/>
<line x1="436.25" y1="473.796" x2="436.25" y2="465.8375555555556" stroke="#000" stroke-width="1.7"/>
<line x1="431.41" y1="465.84" x2="441.09" y2="465.84" stroke="#000" stroke-width="2"/>
<rect x="428.6" y="474.796" width="15.299999999999955" height="103.40400000000005" fill="#fff" stroke="#000" stroke-width="2"/>
<line x1="460.95" y1="532.6075555555556" x2="460.95" y2="521.4117777777778" stroke="#000" stroke-width="1.7"/>
<line x1="456.22" y1="521.41" x2="465.68" y2="521.41" stroke="#000" stroke-width="2"/>
<rect x="453.5" y="533.6075555555556" width="14.899999999999977" height="44.59244444444448" fill="#cfcfcf" stroke="#000" stroke-width="2"/>
<line x1="485.8" y1="533.4168888888889" x2="485.8" y2="521.4117777777778" stroke="#000" stroke-width="1.7"/>
<line x1="480.76" y1="521.41" x2="490.84" y2="521.41" stroke="#000" stroke-width="2"/>
<rect x="477.8" y="534.4168888888889" width="16.0" height="43.78311111111111" fill="#000" stroke="#000" stroke-width="2"/>
<line x1="370" y1="578.2" x2="370" y2="582.8000000000001" stroke="#000" stroke-width="1.7"/>
<text transform="translate(359.37,590.50) scale(1.0823,1)" font-size="9.00" font-weight="bold" fill="#000" stroke="#000" stroke-width="0.15">med</text>
<line x1="461.3" y1="578.2" x2="461.3" y2="582.8000000000001" stroke="#000" stroke-width="1.7"/>
<text transform="translate(436.10,590.50) scale(1.0268,1)" font-size="9.00" font-weight="bold" fill="#000" stroke="#000" stroke-width="0.15">roscovitine</text>
<rect x="322.0" y="444.59999999999997" width="12.099999999999977" height="5.399999999999989" fill="#fff" stroke="#000" stroke-width="1.8"/>
<text transform="translate(342.24,450.50) scale(0.9559,1)" font-size="10.00" fill="#000" stroke="#000" stroke-width="0.3">3T3</text>
<rect x="365.79999999999995" y="444.59999999999997" width="12.2" height="5.399999999999989" fill="#cfcfcf" stroke="#000" stroke-width="1.8"/>
<text transform="translate(385.62,450.50) scale(1.0016,1)" font-size="10.00" fill="#000" stroke="#000" stroke-width="0.3">3T3+Q-VD</text>
<rect x="443.2" y="444.09999999999997" width="12.00000000000001" height="5.600000000000034" fill="#000" stroke="#000" stroke-width="1.8"/>
<text transform="translate(462.43,450.50) scale(0.9947,1)" font-size="10.00" fill="#000" stroke="#000" stroke-width="0.3">3T3+Z-VAD</text>
<text transform="translate(302.90,576.05) rotate(-90) scale(0.9784,1)" font-size="10.10" font-weight="bold" fill="#000" stroke="#000" stroke-width="0.15">% cell death (Ann<tspan dx="1.1" dy="-4.4" font-size="6.8">+</tspan><tspan dx="0.9" dy="4.4"> cells)</tspan></text>
<polygon points="456.40,499.90 457.25,502.03 459.54,502.18 457.78,503.65 458.34,505.87 456.40,504.65 454.46,505.87 455.02,503.65 453.26,502.18 455.55,502.03" fill="#000"/>
<polygon points="462.40,499.90 463.25,502.03 465.54,502.18 463.78,503.65 464.34,505.87 462.40,504.65 460.46,505.87 461.02,503.65 459.26,502.18 461.55,502.03" fill="#000"/>
<polygon points="468.40,499.90 469.25,502.03 471.54,502.18 469.78,503.65 470.34,505.87 468.40,504.65 466.46,505.87 467.02,503.65 465.26,502.18 467.55,502.03" fill="#000"/>
<polygon points="485.90,499.90 486.75,502.03 489.04,502.18 487.28,503.65 487.84,505.87 485.90,504.65 483.96,505.87 484.52,503.65 482.76,502.18 485.05,502.03" fill="#000"/>
<polygon points="491.60,499.90 492.45,502.03 494.74,502.18 492.98,503.65 493.54,505.87 491.60,504.65 489.66,505.87 490.22,503.65 488.46,502.18 490.75,502.03" fill="#000"/>
</svg>
</body></html>
